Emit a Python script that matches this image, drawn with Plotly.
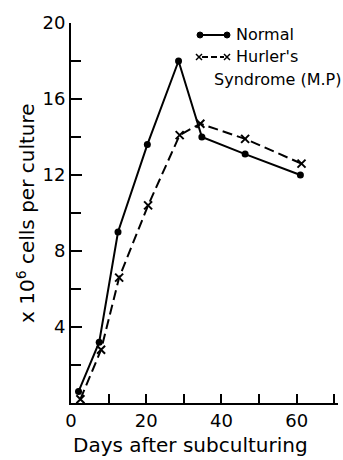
import plotly.graph_objects as go

days_normal = [2, 7.5, 12.5, 20.3, 28.6, 34.8, 46.3, 61]
cells_normal = [0.6, 3.2, 9.0, 13.6, 18.0, 14.0, 13.1, 12.0]
days_hurler = [2.5, 8, 12.8, 20.5, 28.9, 34.4, 46.3, 61.3]
cells_hurler = [0.2, 2.8, 6.6, 10.4, 14.1, 14.7, 13.9, 12.6]

x_tickvals = [0, 20, 40, 60]
x_ticktext = ["0", "20", "40", "60"]
y_tickvals = [4, 8, 12, 16, 20]
y_ticktext = ["4", "8", "12", "16", "20"]

FONT = "DejaVu Sans"
W, H = 343, 460
L, R, T, B = 71, 5, 23, 57
PW, PH = W - L - R, H - T - B

def px(p):
    return (p - L) / PW

def py(p):
    return (H - B - p) / PH

fig = go.Figure()
fig.add_trace(go.Scatter(x=days_normal, y=cells_normal, mode="lines+markers",
                         line=dict(color="black", width=2),
                         marker=dict(symbol="circle", size=7, color="black"),
                         cliponaxis=False, showlegend=False))
fig.add_trace(go.Scatter(x=days_hurler, y=cells_hurler, mode="lines+markers",
                         line=dict(color="black", width=2, dash="10px,5px"),
                         marker=dict(symbol="x-thin-open", size=8, color="black",
                                     line=dict(color="black", width=2)),
                         cliponaxis=False, showlegend=False))

shapes = []
# legend samples
shapes.append(dict(type="line", xref="paper", yref="paper", x0=px(200), x1=px(227),
                   y0=py(35), y1=py(35), line=dict(color="black", width=2)))
for cx in (200, 227):
    shapes.append(dict(type="circle", xref="paper", yref="paper",
                       x0=px(cx - 3), x1=px(cx + 3), y0=py(38), y1=py(32),
                       fillcolor="black", line=dict(color="black", width=1)))
shapes.append(dict(type="line", xref="paper", yref="paper", x0=px(202), x1=px(224),
                   y0=py(57), y1=py(57), line=dict(color="black", width=2, dash="6px,3px")))
for cx in (199, 227):
    shapes.append(dict(type="line", xref="paper", yref="paper", x0=px(cx - 3), x1=px(cx + 3),
                       y0=py(54), y1=py(60), line=dict(color="black", width=1.5)))
    shapes.append(dict(type="line", xref="paper", yref="paper", x0=px(cx - 3), x1=px(cx + 3),
                       y0=py(60), y1=py(54), line=dict(color="black", width=1.5)))

annotations = [
    dict(text="Normal", xref="paper", yref="paper", x=px(234), y=py(35),
         xanchor="left", yanchor="middle", showarrow=False, font=dict(size=16, family=FONT, color="black")),
    dict(text="Hurler's", xref="paper", yref="paper", x=px(234), y=py(57),
         xanchor="left", yanchor="middle", showarrow=False, font=dict(size=16, family=FONT, color="black")),
    dict(text="Syndrome (M.P)", xref="paper", yref="paper", x=px(212), y=py(79),
         xanchor="left", yanchor="middle", showarrow=False, font=dict(size=16, family=FONT, color="black")),
    dict(text="Days after subculturing", xref="paper", yref="paper", x=px(190), y=py(445),
         xanchor="center", yanchor="middle", showarrow=False, font=dict(size=20, family=FONT, color="black")),
    dict(text="x 10<sup>6</sup> cells per culture", xref="paper", yref="paper", x=px(26), y=py(213),
         xanchor="center", yanchor="middle", textangle=-90, showarrow=False,
         font=dict(size=20, family=FONT, color="black")),
]

fig.update_layout(
    width=W, height=H,
    margin=dict(l=L, r=R, t=T, b=B),
    paper_bgcolor="white", plot_bgcolor="white",
    font=dict(family=FONT, color="black", size=16),
    shapes=shapes, annotations=annotations,
    xaxis=dict(range=[0, 71], tickvals=x_tickvals, ticktext=x_ticktext,
               ticks="inside", ticklen=9, tickwidth=2, tickcolor="black",
               minor=dict(dtick=10, tick0=0, ticks="inside", ticklen=9, tickwidth=2,
                          tickcolor="black", showgrid=False),
               showline=True, linecolor="black", linewidth=2, showgrid=False,
               zeroline=False, tickfont=dict(size=18, family=FONT)),
    yaxis=dict(range=[0, 20], tickvals=y_tickvals, ticktext=y_ticktext,
               ticks="inside", ticklen=11, tickwidth=2, tickcolor="black",
               minor=dict(dtick=2, tick0=0, ticks="inside", ticklen=10, tickwidth=2,
                          tickcolor="black", showgrid=False),
               showline=True, linecolor="black", linewidth=2, showgrid=False,
               zeroline=False, tickfont=dict(size=18, family=FONT)),
)

fig.write_html("out.html")
